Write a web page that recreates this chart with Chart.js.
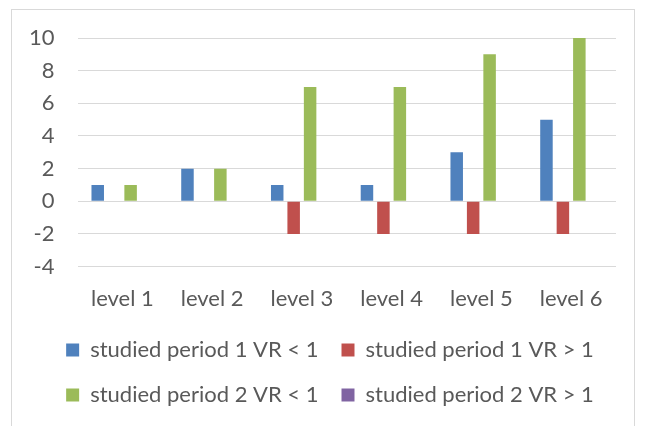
<!DOCTYPE html>
<html>
<head>
<meta charset="utf-8">
<script src="https://cdn.jsdelivr.net/npm/chart.js@4/dist/chart.umd.min.js"></script>
<style>
  html, body { margin: 0; padding: 0; background: #fff; overflow: hidden; }
  #frame { position: absolute; left: 11px; top: 9px; width: 622px; height: 500px; border: 1px solid #d9d9d9; }
  #wrap { position: absolute; left: 0; top: 0; width: 645px; height: 426px; }
</style>
</head>
<body>
<div id="frame"></div>
<div id="wrap"><canvas id="myChart"></canvas></div>
<script>
var levels = ['level 1', 'level 2', 'level 3', 'level 4', 'level 5', 'level 6'];
var seriesNames = ['studied period 1 VR < 1', 'studied period 1 VR > 1', 'studied period 2 VR < 1', 'studied period 2 VR > 1'];
var period1Below = [1, 2, 1, 1, 3, 5];
var period1Above = [0, 0, -2, -2, -2, -2];
var period2Below = [1, 2, 7, 7, 9, 10];
var period2Above = [0, 0, 0, 0, 0, 0];
var yMin = -4, yMax = 10, yStep = 2;

var colors = ['#4f81bd', '#c0504d', '#9bbb59', '#8064a2'];
var values = [period1Below, period1Above, period2Below, period2Above];

// nudge the legend a bit to the right, like the original
var legendShift = {
  id: 'legendShift',
  afterLayout: function(chart){
    chart.legend.left += 19;
    chart.legend.right += 19;
  }
};

document.addEventListener('DOMContentLoaded', function(){
  Chart.defaults.font.family = 'Lato';
  Chart.defaults.color = '#595959';
  var ctx = document.getElementById('myChart').getContext('2d');
  var chart = new Chart(ctx, {
    type: 'bar',
    data: {
      labels: levels,
      datasets: values.map(function(v, i){
        return {
          label: seriesNames[i],
          data: v,
          backgroundColor: colors[i],
          borderWidth: 0,
          categoryPercentage: 0.733,
          barPercentage: 0.76
        };
      })
    },
    options: {
      responsive: true,
      maintainAspectRatio: false,
      animation: false,
      layout: { padding: { left: 6, right: 29, top: 38, bottom: 10 } },
      plugins: {
        tooltip: { enabled: false },
        legend: {
          position: 'bottom',
          labels: { boxWidth: 13, boxHeight: 13, padding: 23, font: { size: 22 } }
        }
      },
      scales: {
        x: {
          grid: { display: false },
          border: { display: false },
          ticks: { padding: 11, font: { size: 22 } },
          afterFit: function(scale){ scale.height -= 7; }
        },
        y: {
          min: yMin,
          max: yMax,
          ticks: { stepSize: yStep, padding: 23, font: { size: 22 } },
          grid: { color: '#d9d9d9', lineWidth: 1, drawTicks: false },
          border: { display: false }
        }
      }
    },
    plugins: [legendShift]
  });
});
</script>
</body>
</html>
